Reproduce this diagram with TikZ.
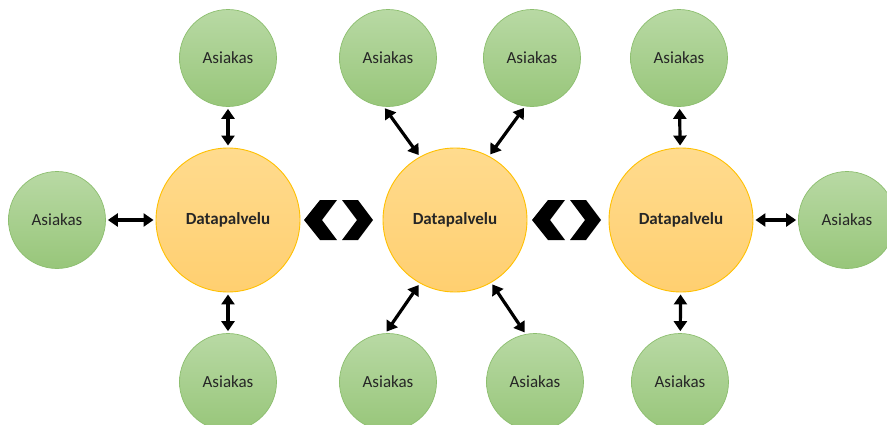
\documentclass[tikz,border=0pt]{standalone}
\usepackage{fontspec}
\setmainfont{Carlito}
\usetikzlibrary{arrows.meta}

\definecolor{greenTop}{RGB}{184,217,164}
\definecolor{greenBot}{RGB}{152,198,122}
\definecolor{greenLine}{RGB}{140,190,110}
\definecolor{orangeTop}{RGB}{255,219,142}
\definecolor{orangeBot}{RGB}{255,207,112}
\definecolor{orangeLine}{RGB}{255,192,0}

\begin{document}
\begin{tikzpicture}[x=1pt,y=-1pt,>={Triangle[length=10pt,width=13pt]},
  asiakas/.style={circle,draw=greenLine,line width=0.7pt,top color=greenTop,bottom color=greenBot,
    minimum size=97pt,inner sep=0pt,text=black!85,font=\fontsize{17}{20}\selectfont},
  palvelu/.style={circle,draw=orangeLine,line width=0.9pt,top color=orangeTop,bottom color=orangeBot,
    minimum size=144pt,inner sep=0pt,text=black!85,font=\fontsize{17}{20}\selectfont\bfseries},
  link/.style={<->,line width=3.2pt,shorten <=2pt,shorten >=2pt}]
  \useasboundingbox (0,0) rectangle (887,424);
  % datapalvelut
  \node[palvelu] (d1) at (228,220) {Datapalvelu};
  \node[palvelu] (d2) at (455,220) {Datapalvelu};
  \node[palvelu] (d3) at (681,220) {Datapalvelu};
  % asiakkaat
  \node[asiakas] (a1) at (228,58) {Asiakas};
  \node[asiakas] (a2) at (57,220) {Asiakas};
  \node[asiakas] (a3) at (228,382) {Asiakas};
  \node[asiakas] (a4) at (388,58) {Asiakas};
  \node[asiakas] (a5) at (532,58) {Asiakas};
  \node[asiakas] (a6) at (388,382) {Asiakas};
  \node[asiakas] (a7) at (535,382) {Asiakas};
  \node[asiakas] (a8) at (679,58) {Asiakas};
  \node[asiakas] (a9) at (847,220) {Asiakas};
  \node[asiakas] (a10) at (680,382) {Asiakas};
  % yhteydet
  \draw[link] (a1) -- (d1);
  \draw[link] (a2) -- (d1);
  \draw[link] (a3) -- (d1);
  \draw[link] (a4.-95) -- (d2.119);
  \draw[link] (a5.-98) -- (d2.62);
  \draw[link] (d2.-119) -- (a6.93);
  \draw[link] (d2.-60) -- (a7.101);
  \draw[link] (a8) -- (d3);
  \draw[link] (a9) -- (d3);
  \draw[link] (a10) -- (d3);
  % nuolet palveluiden valilla
  \foreach \dx in {0,228}{
    \fill (320+\dx,200)--(337+\dx,200)--(322+\dx,220)--(337+\dx,240)--(320+\dx,240)--(304+\dx,220)--cycle;
    \fill (342+\dx,200)--(358+\dx,200)--(373+\dx,220)--(358+\dx,240)--(342+\dx,240)--(357+\dx,220)--cycle;
  }
\end{tikzpicture}
\end{document}
